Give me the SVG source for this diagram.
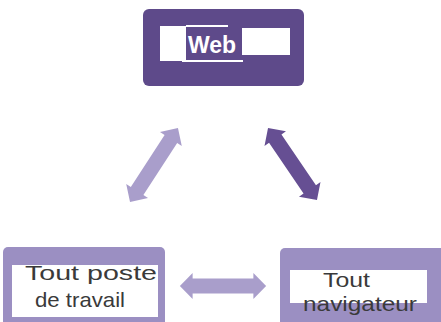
<svg xmlns="http://www.w3.org/2000/svg" width="441" height="322" viewBox="0 0 441 322">
<style>
.lbl{font-family:"Liberation Sans",Arial,sans-serif;font-size:21px;fill:#3a3a3a}
.web{font-family:"Liberation Sans",Arial,sans-serif;font-size:23px;font-weight:bold;fill:#ffffff}
.light{fill:#a99ecb}
.dark{fill:#664f93}
</style>
<defs>
<path id="dbl" d="M-44,0 L-31,-13 L-31,-7.5 L31,-7.5 L31,-13 L44,0 L31,13 L31,7.5 L-31,7.5 L-31,13 Z"/>
</defs>
<rect width="441" height="322" fill="#ffffff"/>
<g id="web">
<rect x="143" y="9" width="161" height="77" rx="6" fill="#5e4a8a"/>
<rect x="160" y="26" width="26" height="35" fill="#ffffff"/>
<rect x="242" y="28" width="48" height="27" fill="#ffffff"/>
<line x1="186" y1="26" x2="228" y2="26" stroke="#ffffff" stroke-width="2"/>
<line x1="182" y1="61" x2="243" y2="61" stroke="#ffffff" stroke-width="2"/>
<text class="web" x="212" y="53" text-anchor="middle">Web</text>
</g>
<g id="poste">
<rect x="3" y="247" width="162" height="80" rx="5" fill="#9b8fc2"/>
<rect x="12" y="265" width="146" height="52" fill="#ffffff"/>
<text class="lbl" x="25" y="280" textLength="132" lengthAdjust="spacingAndGlyphs">Tout poste</text>
<text class="lbl" x="35" y="307" textLength="90" lengthAdjust="spacingAndGlyphs">de travail</text>
</g>
<g id="navigateur">
<rect x="280" y="248" width="166" height="80" rx="5" fill="#9b8fc2"/>
<rect x="290" y="270" width="137" height="33" fill="#ffffff"/>
<text class="lbl" x="323" y="287" textLength="47" lengthAdjust="spacingAndGlyphs">Tout</text>
<text class="lbl" x="303" y="311" textLength="114" lengthAdjust="spacingAndGlyphs">navigateur</text>
</g>
<g id="connectors">
<use href="#dbl" class="light" transform="translate(154,165) rotate(-57)"/>
<use href="#dbl" class="dark" transform="translate(292.5,164) rotate(55.8) scale(0.99,1)"/>
<use href="#dbl" class="light" transform="translate(223,286) scale(0.98,1)"/>
</g>
</svg>
